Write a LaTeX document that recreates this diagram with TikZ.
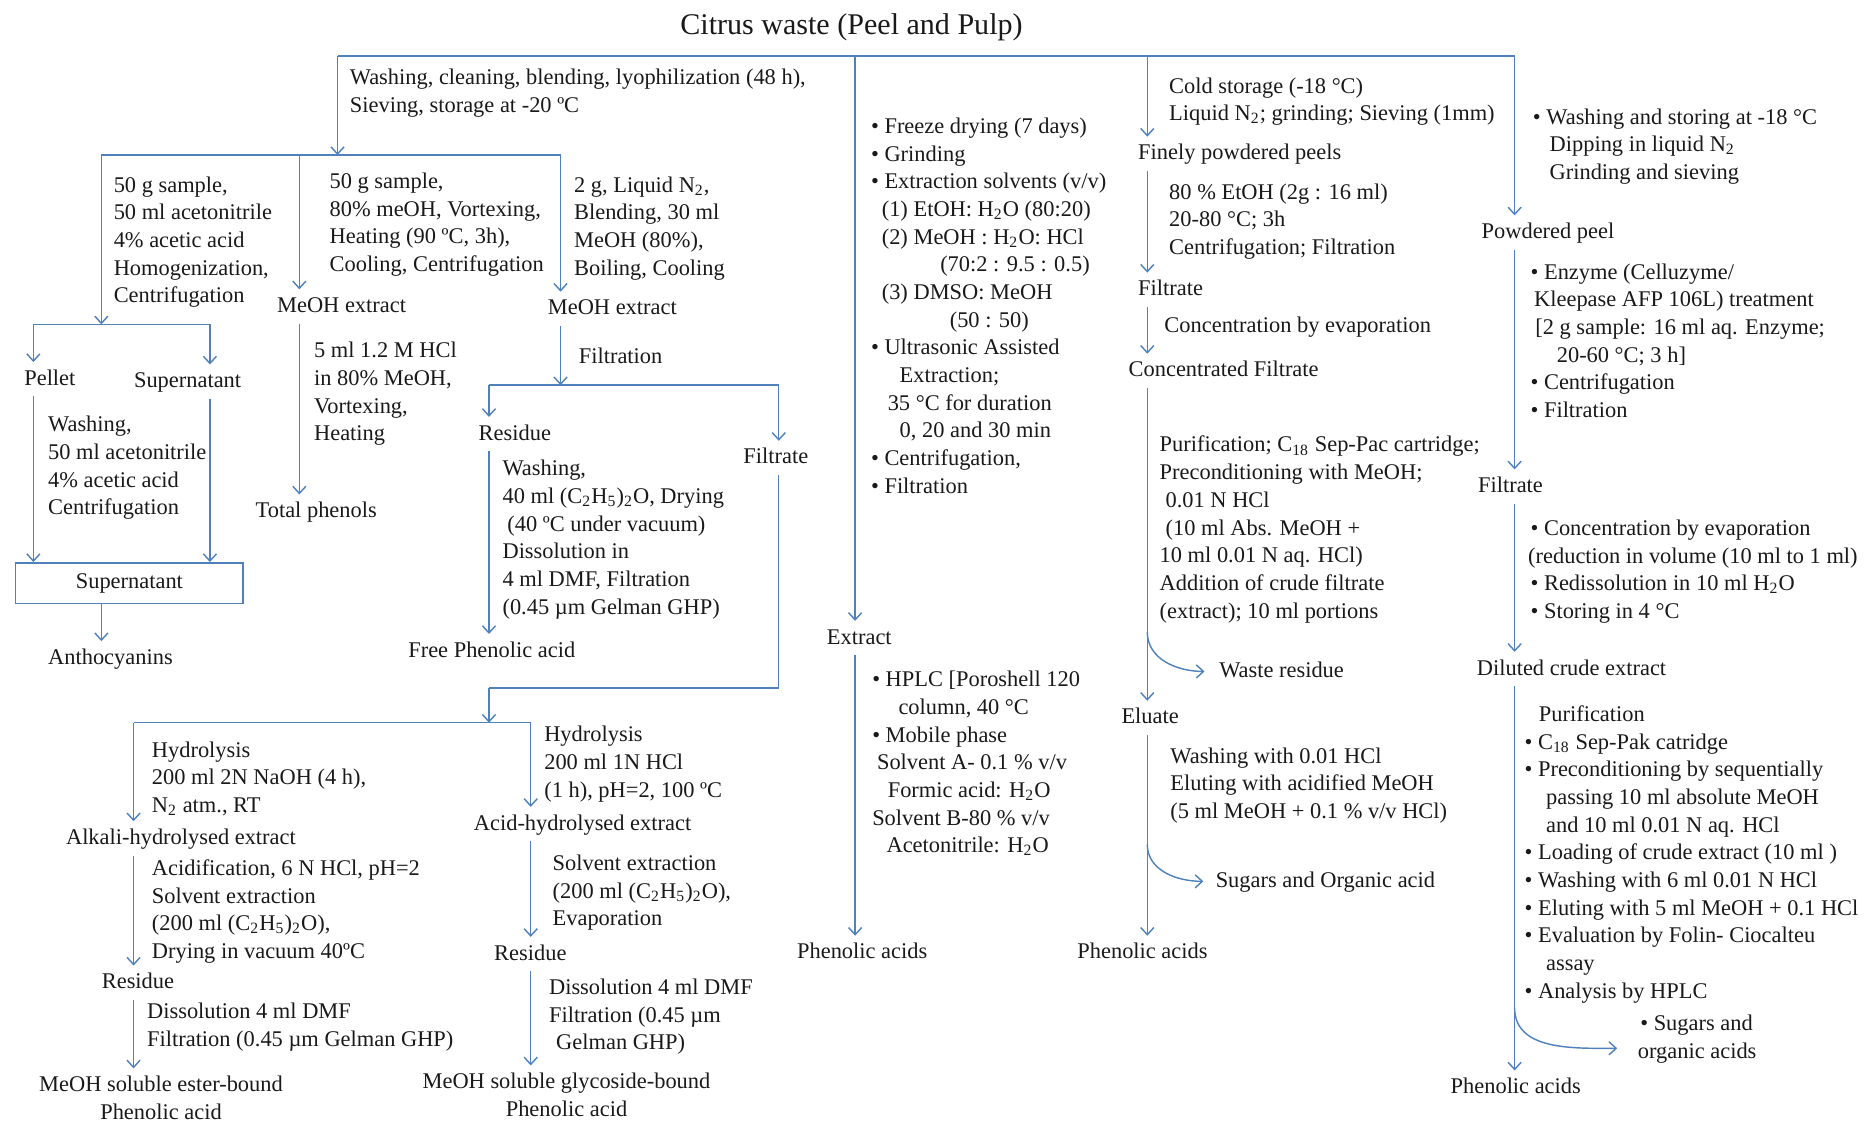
\documentclass[tikz,border=0pt]{standalone}
\usepackage{fontspec}
\setmainfont{Liberation Serif}
\usetikzlibrary{arrows.meta,positioning}
\definecolor{flowblue}{RGB}{79,129,189}
\definecolor{ink}{RGB}{25,25,25}
\newcommand\fs{\fontsize{9.4}{11.6}\selectfont}
\newcommand\sbs[1]{\textsubscript{#1}}
\tikzset{
  wire/.style={draw=flowblue, line width=0.6pt},
  arr/.style={wire, -{Straight Barb[length=3pt,width=5.5pt]}},
  tx/.style={font=\fs, text=ink, inner xsep=0pt, inner ysep=3pt},
  lbl/.style={tx, anchor=base west, text height=6.5pt, text depth=1.5pt},
  txt/.style={tx, anchor=base west, align=left},
  ctr/.style={tx, anchor=base, align=center},
  boxed/.style={tx, draw=flowblue, line width=0.7pt, minimum width=95.5pt, minimum height=17pt},
}
\begin{document}
\begin{tikzpicture}[x=0.5pt,y=-0.5pt]
\useasboundingbox (0,0) rectangle (1568,941);
\node[tx, anchor=base, font=\fontsize{12.6}{14}\selectfont] (title) at (714,29) {Citrus waste (Peel and Pulp)};

\coordinate (top1) at (283,47);
\coordinate (top4) at (717,47);
\coordinate (top5) at (962,47);
\coordinate (top6) at (1270,47);
\coordinate (fork1) at (283,130);
\coordinate (fork1a) at (85,130);
\coordinate (fork1b) at (251,130);
\coordinate (fork1c) at (470,130);
\coordinate (fork2) at (85,272);
\coordinate (fork2a) at (28,272);
\coordinate (fork2b) at (176,272);
\coordinate (fork3) at (470,323);
\coordinate (fork3a) at (410,323);
\coordinate (fork3b) at (653,323);
\coordinate (bend) at (653,577);
\coordinate (bend2) at (410,577);
\coordinate (fork4) at (410,606);
\coordinate (fork4a) at (112,606);
\coordinate (fork4b) at (445,606);
\coordinate (waste0) at (962,530);
\coordinate (sugar0) at (962,708);
\coordinate (sugar2a) at (1270,845);
\coordinate (sugar2b) at (1356,879);

% first branch (multi-line nodes sit on their last baseline)
\node[txt] (wash1) at (293,94.2) {Washing, cleaning, blending, lyophilization (48 h),\\ Sieving, storage at -20 ºC};
\node[txt] (s50a) at (95,253.8) {50 g sample,\\ 50 ml acetonitrile\\ 4\% acetic acid\\ Homogenization,\\ Centrifugation};
\node[txt] (s50b) at (276,227.6) {50 g sample,\\ 80\% meOH, Vortexing,\\ Heating (90 ºC, 3h),\\ Cooling, Centrifugation};
\node[txt] (s2g) at (481,230.6) {2 g, Liquid N\sbs{2},\\ Blending, 30 ml\\ MeOH (80\%),\\ Boiling, Cooling};
\node[lbl] (meoh1) at (232,262) {MeOH extract};
\node[lbl] (meoh2) at (459,264) {MeOH extract};
\node[lbl] (pellet) at (20,323) {Pellet};
\node[lbl] (supn) at (112,325) {Supernatant};
\node[txt] (wash2) at (40,431.6) {Washing,\\ 50 ml acetonitrile\\ 4\% acetic acid\\ Centrifugation};
\node[boxed] (sbox) at (108.5,489) {Supernatant};
\node[lbl] (antho) at (40,557) {Anthocyanins};
\node[txt] (hcl) at (263,369.6) {5 ml 1.2 M HCl\\ in 80\% MeOH,\\ Vortexing,\\ Heating};
\node[lbl] (totph) at (214,434) {Total phenols};
\node[lbl] (filtr) at (485,305) {Filtration};
\node[lbl] (res1) at (401,369) {Residue};
\node[lbl] (filt1) at (623,389) {Filtrate};
\node[txt] (wash3) at (421,515) {Washing,\\ 40 ml (C\sbs{2}H\sbs{5})\sbs{2}O, Drying\\ \hspace*{2pt}(40 ºC under vacuum)\\ Dissolution in\\ 4 ml DMF, Filtration\\ (0.45 µm Gelman GHP)};
\node[lbl] (freeph) at (342,551) {Free Phenolic acid};
\node[txt] (hyd1) at (127,681.4) {Hydrolysis\\ 200 ml 2N NaOH (4 h),\\ N\sbs{2} atm., RT};
\node[lbl] (alkali) at (55,708) {Alkali-hydrolysed extract};
\node[txt] (acid1) at (127,803.6) {Acidification, 6 N HCl, pH=2\\ Solvent extraction\\ (200 ml (C\sbs{2}H\sbs{5})\sbs{2}O),\\ Drying in vacuum 40ºC};
\node[lbl] (res2) at (85,829) {Residue};
\node[txt] (diss1) at (123,877.2) {Dissolution 4 ml DMF\\ Filtration (0.45 µm Gelman GHP)};
\node[ctr] (ester) at (135,938.5) {MeOH soluble ester-bound\\ Phenolic acid};
\node[txt] (hyd2) at (456,668.4) {Hydrolysis\\ 200 ml 1N HCl\\ (1 h), pH=2, 100 ºC};
\node[lbl] (acidhyd) at (397,696) {Acid-hydrolysed extract};
\node[txt] (solv2) at (463,776.4) {Solvent extraction\\ (200 ml (C\sbs{2}H\sbs{5})\sbs{2}O),\\ Evaporation};
\node[lbl] (res3) at (414,805) {Residue};
\node[txt] (diss2) at (460,880.4) {Dissolution 4 ml DMF\\ Filtration (0.45 µm\\ \hspace*{3pt}Gelman GHP)};
\node[ctr] (glyco) at (475,936) {MeOH soluble glycoside-bound\\ Phenolic acid};

% second branch
\node[txt] (freeze) at (730,413.6) {\textbullet\ Freeze drying (7 days)\\
\textbullet\ Grinding\\
\textbullet\ Extraction solvents (v/v)\\
\hspace*{4.5pt}(1) EtOH: H\sbs{2}O (80:20)\\
\hspace*{4.5pt}(2) MeOH : H\sbs{2}O: HCl\\
\hspace*{29pt}(70:2 : 9.5 : 0.5)\\
\hspace*{4.5pt}(3) DMSO: MeOH\\
\hspace*{33pt}(50 : 50)\\
\textbullet\ Ultrasonic Assisted\\
\hspace*{12pt}Extraction;\\
\hspace*{7pt}35 °C for duration\\
\hspace*{12pt}0, 20 and 30 min\\
\textbullet\ Centrifugation,\\
\textbullet\ Filtration};
\node[lbl] (extract) at (693,540) {Extract};
\node[txt] (hplc) at (731,715.2) {\textbullet\ HPLC [Poroshell 120\\
\hspace*{11pt}column, 40 °C\\
\textbullet\ Mobile phase\\
\hspace*{2pt}Solvent A- 0.1 \% v/v\\
\hspace*{6.5pt}Formic acid: H\sbs{2}O\\
Solvent B-80 \% v/v\\
\hspace*{6pt}Acetonitrile: H\sbs{2}O};
\node[lbl] (phen4) at (668,804) {Phenolic acids};

% third branch
\node[txt] (cold) at (980,101.2) {Cold storage (-18 °C)\\ Liquid N\sbs{2}; grinding; Sieving (1mm)};
\node[lbl] (finely) at (954,134) {Finely powdered peels};
\node[txt] (etoh) at (980,213.4) {80 \% EtOH (2g : 16 ml)\\ 20-80 °C; 3h\\ Centrifugation; Filtration};
\node[lbl] (filt2) at (954,248) {Filtrate};
\node[lbl] (conc) at (976,279) {Concentration by evaporation};
\node[lbl] (concf) at (946,316) {Concentrated Filtrate};
\node[txt] (purif) at (972,518.2) {Purification; C\sbs{18} Sep-Pac cartridge;\\ Preconditioning with MeOH;\\ \hspace*{2.5pt}0.01 N HCl\\ \hspace*{2.5pt}(10 ml Abs. MeOH +\\ 10 ml 0.01 N aq. HCl)\\ Addition of crude filtrate\\ (extract); 10 ml portions};
\node[lbl] (waste) at (1022,568) {Waste residue};
\node[lbl] (eluate) at (940,607) {Eluate};
\node[txt] (washel) at (981,686.4) {Washing with 0.01 HCl\\ Eluting with acidified MeOH\\ (5 ml MeOH + 0.1 \% v/v HCl)};
\node[lbl] (sugars1) at (1019,744) {Sugars and Organic acid};
\node[lbl] (phen5) at (903,804) {Phenolic acids};

% fourth branch
\node[txt] (washst) at (1285,150.4) {\textbullet\ Washing and storing at -18 °C\\ \hspace*{7pt}Dipping in liquid N\sbs{2}\\ \hspace*{7pt}Grinding and sieving};
\node[lbl] (powd) at (1242,200) {Powdered peel};
\node[txt] (enz) at (1283,350) {\textbullet\ Enzyme (Celluzyme/\\ \hspace*{1.5pt}Kleepase AFP 106L) treatment\\ \hspace*{2pt}[2 g sample: 16 ml aq. Enzyme;\\ \hspace*{11pt}20-60 °C; 3 h]\\ \textbullet\ Centrifugation\\ \textbullet\ Filtration};
\node[lbl] (filt3) at (1239,413) {Filtrate};
\node[txt] (concev) at (1281,518.6) {\hspace*{1pt}\textbullet\ Concentration by evaporation\\ (reduction in volume (10 ml to 1 ml)\\ \hspace*{1pt}\textbullet\ Redissolution in 10 ml H\sbs{2}O\\ \hspace*{1pt}\textbullet\ Storing in 4 °C};
\node[lbl] (diluted) at (1238,566) {Diluted crude extract};
\node[txt] (purif2) at (1278,837) {\hspace*{6pt}Purification\\ \textbullet\ C\sbs{18} Sep-Pak catridge\\ \textbullet\ Preconditioning by sequentially\\ \hspace*{9pt}passing 10 ml absolute MeOH\\ \hspace*{9pt}and 10 ml 0.01 N aq. HCl\\ \textbullet\ Loading of crude extract (10 ml )\\ \textbullet\ Washing with 6 ml 0.01 N HCl\\ \textbullet\ Eluting with 5 ml MeOH + 0.1 HCl\\ \textbullet\ Evaluation by Folin- Ciocalteu\\ \hspace*{9pt}assay\\ \textbullet\ Analysis by HPLC};
\node[txt] (sugars2) at (1373,887.2) {\hspace*{1pt}\textbullet\ Sugars and\\ organic acids};
\node[lbl] (phen6) at (1216,917) {Phenolic acids};

% connectors
\draw[wire] (top1) -- (top6);
\draw[arr] (top1) -- (fork1);
\draw[wire] (fork1a) -- (fork1c);
\draw[arr] (fork1a) -- (fork2);
\draw[arr] (fork1b) -- (fork1b |- meoh1.north);
\draw[arr] (fork1c) -- (fork1c |- meoh2.north);
\draw[wire] (fork2a) -- (fork2b);
\draw[arr] (fork2a) -- (fork2a |- pellet.north);
\draw[arr] (fork2b) -- (fork2b |- supn.north);
\draw[arr] (pellet.south -| fork2a) -- (fork2a |- sbox.north);
\draw[arr] (supn.south -| fork2b) -- (fork2b |- sbox.north);
\draw[arr] (sbox.south -| fork2) -- (fork2 |- antho.north);
\draw[arr] (meoh1.south -| fork1b) -- (fork1b |- totph.north);
\draw[arr] (meoh2.south -| fork3) -- (fork3);
\draw[wire] (fork3a) -- (fork3b);
\draw[arr] (fork3a) -- (fork3a |- res1.north);
\draw[arr] (fork3b) -- (fork3b |- filt1.north);
\draw[arr] (res1.south -| fork3a) -- (fork3a |- freeph.north);
\draw[wire] (filt1.south -| bend) -- (bend) -- (bend2);
\draw[arr] (bend2) -- (fork4);
\draw[wire] (fork4a) -- (fork4b);
\draw[arr] (fork4a) -- (fork4a |- alkali.north);
\draw[arr] (fork4b) -- (fork4b |- acidhyd.north);
\draw[arr] (alkali.south -| fork4a) -- (fork4a |- res2.north);
\draw[arr] (res2.south -| fork4a) -- (fork4a |- ester.north);
\draw[arr] (acidhyd.south -| fork4b) -- (fork4b |- res3.north);
\draw[arr] (res3.south -| fork4b) -- (fork4b |- glyco.north);

\draw[arr] (top4) -- (top4 |- extract.north);
\draw[arr] (extract.south -| top4) -- (top4 |- phen4.north);

\draw[arr] (top5) -- (top5 |- finely.north);
\draw[arr] (finely.south -| top5) -- (top5 |- filt2.north);
\draw[arr] (filt2.south -| top5) -- (top5 |- concf.north);
\draw[arr] (concf.south -| top5) -- (top5 |- eluate.north);
\draw[arr] (eluate.south -| top5) -- (top5 |- phen5.north);
\draw[arr] (waste0) to[out=-90,in=180] ([xshift=-6pt]waste.west);
\draw[arr] (sugar0) to[out=-90,in=180] ([xshift=-5pt]sugars1.west);

\draw[arr] (top6) -- (top6 |- powd.north);
\draw[arr] (powd.south -| top6) -- (top6 |- filt3.north);
\draw[arr] (filt3.south -| top6) -- (top6 |- diluted.north);
\draw[arr] (diluted.south -| top6) -- (top6 |- phen6.north);
\draw[arr] (sugar2a) to[out=-90,in=180] (sugar2b);
\end{tikzpicture}
\end{document}
